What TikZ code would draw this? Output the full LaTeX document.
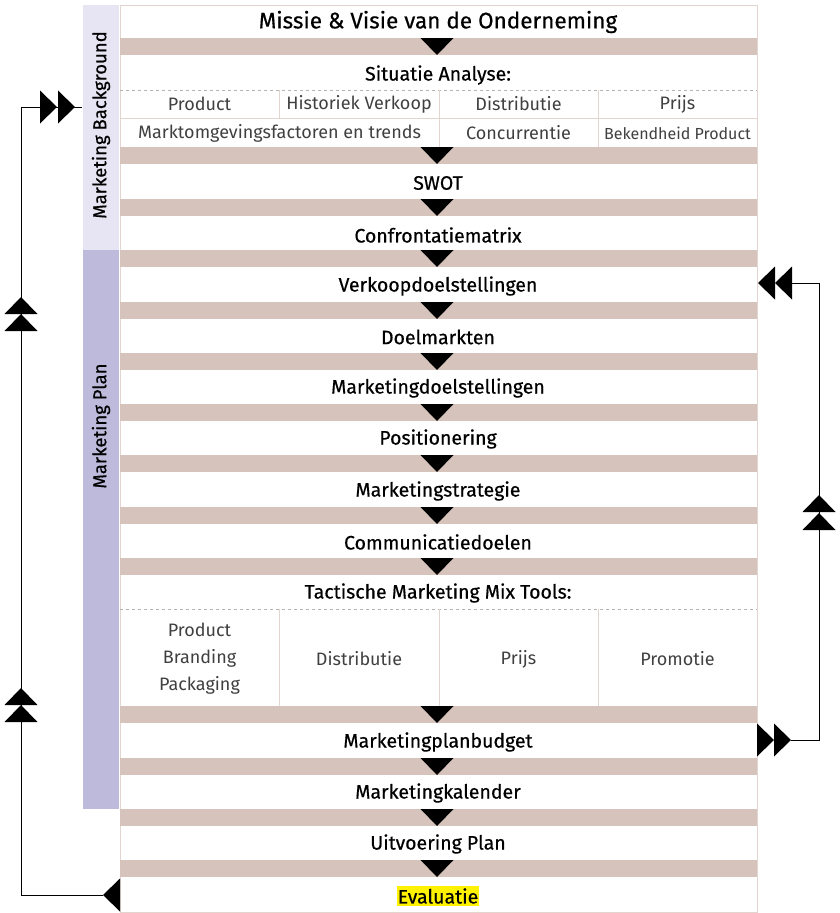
\documentclass[tikz,border=0pt]{standalone}
\usepackage{fontspec}
\setmainfont{Fira Sans}
\newfontfamily\headfont{Fira Sans}[FakeBold=0.5]
\usetikzlibrary{calc}
\definecolor{barcol}{HTML}{D6C4BC}
\definecolor{bgside}{HTML}{E7E5F3}
\definecolor{planside}{HTML}{BDBADB}
\definecolor{rulecol}{HTML}{E2D4CE}
\definecolor{hilite}{HTML}{FFF200}
\tikzset{
  tri/.pic={\fill (0,0) -- (-16.5,17) -- (16.5,17) -- cycle;},
  stage/.style={inner sep=0pt, font=\headfont\fontsize{19.5}{22}\selectfont},
  cell/.style={inner sep=0pt, text=black!75, font=\fontsize{18}{27}\selectfont, align=center},
  side/.style={inner sep=0pt, rotate=90, font=\headfont\fontsize{18.5}{21}\selectfont},
}
\begin{document}
\begin{tikzpicture}[x=1pt, y=-1pt]
	%%%%% START %%%%%
	\useasboundingbox (0,0) rectangle (840,913);
	
	% side bands
	\fill[bgside] (83,5) rectangle (119,250);
	\fill[planside] (83,250) rectangle (119,809);
	\node[side] (background) at (101,125) {Marketing Background};
	\node[side] (plan) at (101,426) {Marketing Plan};
	
	% column frame and bars
	\draw[rulecol] (120,5) rectangle (757,912);
	\foreach \t in {38,147,199,250,302,353,404,455,507,558,706,758,809,860}{
		\fill[barcol] (120,\t) rectangle (757,\t+17);
		\pic[rotate=180] at (437,\t+17) {tri};
	}
	
	% stages
	\node[stage, font=\headfont\fontsize{22.5}{24}\selectfont] (missie) at (438,22) {Missie \& Visie van de Onderneming};
	\node[stage] (situatie) at (438,75) {Situatie Analyse:};
	\node[stage] (swot) at (438,183) {SWOT};
	\node[stage] (confrontatie) at (438,235) {Confrontatiematrix};
	\node[stage] (verkoop) at (438,286) {Verkoopdoelstellingen};
	\node[stage] (doelmarkten) at (438,337) {Doelmarkten};
	\node[stage] (mdoelen) at (438,388) {Marketingdoelstellingen};
	\node[stage] (positionering) at (438,439) {Positionering};
	\node[stage] (strategie) at (438,491) {Marketingstrategie};
	\node[stage] (communicatie) at (438,542) {Communicatiedoelen};
	\node[stage] (tactisch) at (438,593) {Tactische Marketing Mix Tools:};
	\node[stage] (budget) at (438,742) {Marketingplanbudget};
	\node[stage] (kalender) at (438,793) {Marketingkalender};
	\node[stage] (uitvoering) at (438,844) {Uitvoering Plan};
	\node[stage, fill=hilite, inner xsep=1pt, inner ysep=2pt] (evaluatie) at (438,896) {Evaluatie};
	
	% situatie analyse table
	\draw[black!30, dashed] (120,90) -- (757,90);
	\draw[rulecol] (120,118) -- (757,118);
	\foreach \x in {279,439,598} \draw[rulecol] (\x,90) -- (\x,118);
	\foreach \x in {439,598} \draw[rulecol] (\x,118) -- (\x,147);
	\node[cell] (sa1) at (199.5,104) {Product};
	\node[cell] (sa2) at (359,104) {Historiek Verkoop};
	\node[cell] (sa3) at (518.5,104) {Distributie};
	\node[cell] (sa4) at (677.5,104) {Prijs};
	\node[cell] (sa5) at (279.5,133) {Marktomgevingsfactoren en trends};
	\node[cell] (sa6) at (518.5,133) {Concurrentie};
	\node[cell, font=\fontsize{16}{18}\selectfont] (sa7) at (677.5,133) {Bekendheid Product};
	
	% marketing mix table
	\draw[black!30, dashed] (120,609) -- (757,609);
	\foreach \x in {279,439,598} \draw[rulecol] (\x,609) -- (\x,706);
	\node[cell] (mm1) at (199.5,659) {Product\\Branding\\Packaging};
	\node[cell] (mm2) at (359,659) {Distributie};
	\node[cell] (mm3) at (518.5,659) {Prijs};
	\node[cell] (mm4) at (677.5,659) {Promotie};
	
	% left feedback loop
	\coordinate (evaltip) at (103,895);
	\coordinate (bgin) at (82,107);
	\pic[rotate=90] at (evaltip) {tri};
	\draw[semithick] (evaltip) -- ++(-82,0) |- (bgin);
	\foreach \y in {297,314,688,705} \pic at (21,\y) {tri};
	\pic[rotate=-90] at (57,107) {tri};
	\pic[rotate=-90] at (75,107) {tri};
	
	% right feedback loop
	\coordinate (budgetout) at (791,740);
	\coordinate (verkoopin) at (792,283);
	\pic[rotate=-90] at (774,740) {tri};
	\pic[rotate=-90] at (budgetout) {tri};
	\draw[semithick] (budgetout) -- ++(28,0) |- (verkoopin);
	\foreach \y in {495,513} \pic at (819,\y) {tri};
	\pic[rotate=90] at (758,283) {tri};
	\pic[rotate=90] at (775,283) {tri};
	
	%%%%% END %%%%%
\end{tikzpicture}
\end{document}
